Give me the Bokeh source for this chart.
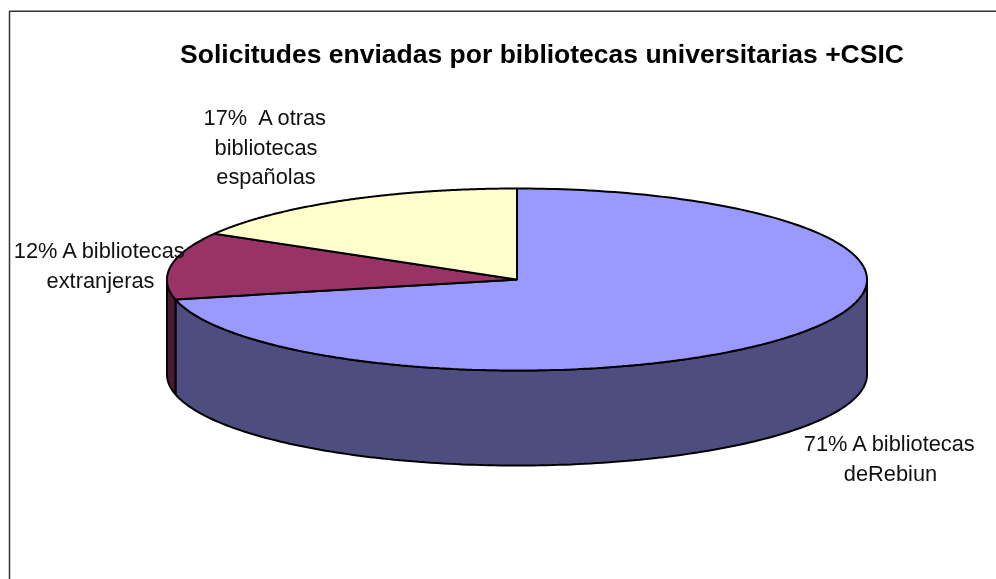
import numpy as np
from bokeh.plotting import figure
from bokeh.models import Range1d
from bokeh.core.properties import value
from bokeh.embed import file_html
from bokeh.resources import INLINE

TITLE = "Solicitudes enviadas por bibliotecas universitarias +CSIC"
categories = ["A bibliotecas deRebiun", "A bibliotecas extranjeras", "A otras bibliotecas españolas"]
shares = [71.49, 11.9, 16.61]  # slice sizes; labelled 71 / 12 / 17 %
top_colors = ["#9999FF", "#993366", "#FFFFCC"]
side_colors = ["#4D4D80", "#4D1A33", "#808066"]
label_lines = [
    ["71% A bibliotecas", "deRebiun"],
    ["12% A bibliotecas", "extranjeras"],
    ["17%\u00a0 A otras", "bibliotecas", "españolas"],
]
label_anchor = [(890, 443), (100, 250), (265.5, 117)]  # centre x, first-line centre y
LINE_H = 29.5
FONT = "Liberation Sans"

CX, CY, RX, RY, DEPTH = 516.5, 279.0, 350.0, 91.0, 95.0
WIDTH, HEIGHT = 996, 579

p = figure(width=WIDTH, height=HEIGHT, output_backend="svg", toolbar_location=None,
           x_range=Range1d(0, WIDTH), y_range=Range1d(HEIGHT, 0),
           min_border=0, outline_line_color=None,
           styles={"position": "fixed", "left": "0px", "top": "0px"})
p.axis.visible = False
p.grid.visible = False

# outer frame, cut by the page on the right and at the bottom
p.line([9, 9, WIDTH], [HEIGHT, 10.8, 10.8], line_color="#333333", line_width=1.5)


def ex(t):
    return CX + RX * np.sin(t)


def ey(t):
    return CY - RY * np.cos(t)


cum = np.cumsum([0] + shares) / sum(shares) * 2 * np.pi

# side walls: only the front half (90..270 degrees) shows
for i in range(len(shares)):
    a = max(cum[i], np.pi / 2)
    b = min(cum[i + 1], 3 * np.pi / 2)
    if b <= a:
        continue
    t = np.linspace(a, b, 160)
    xs = np.r_[ex(t), ex(t[::-1])]
    ys = np.r_[ey(t), ey(t[::-1]) + DEPTH]
    p.patch(xs, ys, fill_color=side_colors[i], line_color="black", line_width=2)

# top faces
for i in range(len(shares)):
    t = np.linspace(cum[i], cum[i + 1], 240)
    xs = np.r_[CX, ex(t)]
    ys = np.r_[CY, ey(t)]
    p.patch(xs, ys, fill_color=top_colors[i], line_color="black", line_width=2)

p.text([541.5], [53], text=[TITLE], text_font=value(FONT), text_font_style="bold",
       text_font_size="26.5px", text_color="black", text_align="center", text_baseline="middle")

for lines, (lx, ly) in zip(label_lines, label_anchor):
    ys = [ly + k * LINE_H for k in range(len(lines))]
    p.text([lx] * len(lines), ys, text=lines, text_font=value(FONT), text_font_size="21.8px",
           text_color="#111111", text_align="center", text_baseline="middle")

open("out.html", "w").write(file_html(p, INLINE))
